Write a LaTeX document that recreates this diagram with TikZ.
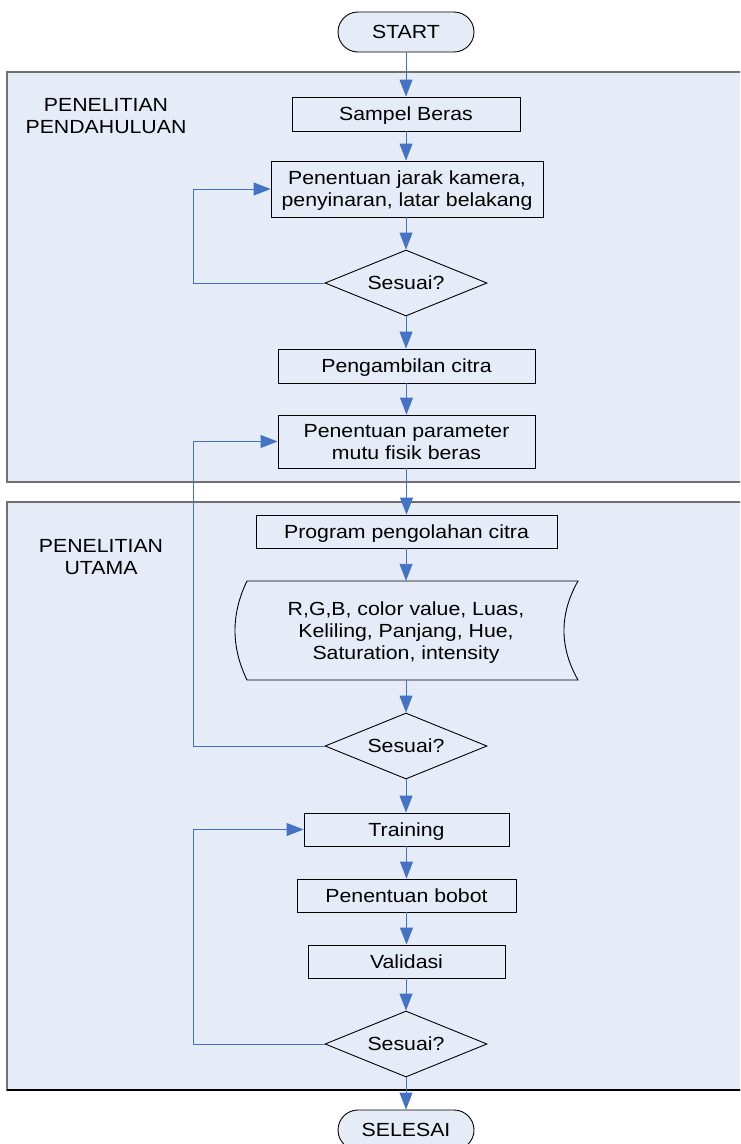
\documentclass[tikz,border=0pt]{standalone}
\usepackage{fontspec}
\setmainfont{Liberation Sans}[FakeStretch=1.12]
\usetikzlibrary{shapes.geometric,arrows.meta}
\definecolor{panelfill}{RGB}{230,236,247}
\definecolor{arrowblue}{RGB}{68,114,196}
\definecolor{panelgray}{RGB}{112,112,112}
\tikzset{
  box/.style={draw=black, line width=0.9pt, fill=panelfill, rectangle, inner sep=0pt, align=center,
    text depth=0pt, font=\fontsize{19}{22}\selectfont},
  term/.style={box, rounded corners=20pt, minimum width=136pt, minimum height=40pt},
  dec/.style={box, diamond, aspect=2.45, minimum width=162pt, minimum height=66pt},
  plain/.style={inner sep=0pt, align=center, text depth=0pt, font=\fontsize{19}{22}\selectfont},
  arr/.style={draw=arrowblue, line width=0.9pt, -{Triangle[length=17pt,width=13pt]}},
  panel/.style={draw=panelgray, line width=1.5pt, fill=panelfill},
}
\begin{document}
\begin{tikzpicture}[x=1pt,y=-1pt]
\clip (0,0) rectangle (740,1144);
\fill[white] (0,0) rectangle (740,1144);
% panels
\draw[panel] (7,72) rectangle (760,482);
\draw[panel] (7,502) rectangle (760,1090);
\draw[black, line width=1.5pt] (7,1090) -- (760,1090);
\node[plain] (lab1) at (106,116) {PENELITIAN\\PENDAHULUAN};
\node[plain] (lab2) at (101,557) {PENELITIAN\\UTAMA};
% nodes
\node[term] (start) at (406,32) {START};
\node[box, minimum width=228pt, minimum height=34pt] (sampel) at (406,114) {Sampel Beras};
\node[box, minimum width=272pt, minimum height=56pt] (jarak) at (407,189) {Penentuan jarak kamera,\\penyinaran, latar belakang};
\node[dec] (ses1) at (406,283) {Sesuai?};
\node[box, minimum width=257pt, minimum height=34pt] (ambil) at (406.5,366) {Pengambilan citra};
\node[box, minimum width=257pt, minimum height=53pt] (param) at (406.5,441.5) {Penentuan parameter\\mutu fisik beras};
\node[box, minimum width=301pt, minimum height=33pt] (prog) at (406.5,531.5) {Program pengolahan citra};
\draw[black, line width=0.9pt, fill=panelfill] (247,581) -- (578,581)
  .. controls (559.3,614) and (559.3,647) .. (578,680) -- (247,680)
  .. controls (231,647) and (231,614) .. (247,581) -- cycle;
\node[plain, minimum width=320pt, minimum height=99pt] (data) at (406,630.5) {R,G,B, color value, Luas,\\Keliling, Panjang, Hue,\\Saturation, intensity};
\node[dec] (ses2) at (406,746) {Sesuai?};
\node[box, minimum width=205pt, minimum height=33pt] (train) at (406.5,829.5) {Training};
\node[box, minimum width=219pt, minimum height=33pt] (bobot) at (406.5,895.5) {Penentuan bobot};
\node[box, minimum width=197pt, minimum height=33pt] (valid) at (406.5,961.5) {Validasi};
\node[dec] (ses3) at (406,1044) {Sesuai?};
\node[term] (selesai) at (406,1130) {SELESAI};
% connectors
\draw[arr] (start) -- (sampel);
\draw[arr] (sampel) -- (sampel |- jarak.north);
\draw[arr] (jarak.south -| ses1) -- (ses1);
\draw[arr] (ses1) -- (ambil.north -| ses1);
\draw[arr] (ambil) -- (param);
\draw[arr] (param) -- (prog);
\draw[arr] (prog.south -| data) -- (data);
\draw[arr] (data) -- (ses2);
\draw[arr] (ses2) -- (train.north -| ses2);
\draw[arr] (train) -- (bobot);
\draw[arr] (bobot) -- (valid);
\draw[arr] (valid.south -| ses3) -- (ses3);
\draw[arr] (ses3) -- (selesai);
\draw[arr] (ses1.west) -- ++(-131,0) |- (jarak.west);
\draw[arr] (ses2.west) -- ++(-131,0) |- (param.west);
\draw[arr] (ses3.west) -- ++(-131,0) |- (train.west);
\end{tikzpicture}
\end{document}
